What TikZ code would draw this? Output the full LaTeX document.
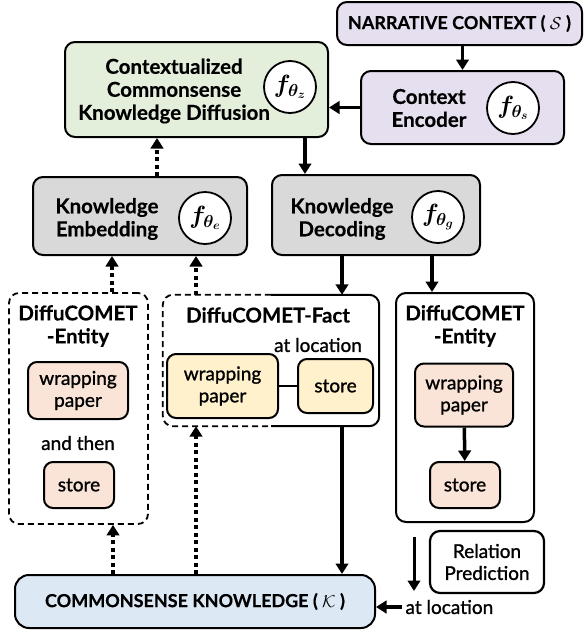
\documentclass[tikz,border=0pt]{standalone}
\usepackage{fontspec}
\setmainfont{Lato}[BoldFeatures={FakeBold=0.4}]
\newfontfamily\medfont{Lato}[FakeBold=1.2]
\usepackage{bm}
\usetikzlibrary{arrows.meta}
\definecolor{ctxpurple}{HTML}{E6DFF0}
\definecolor{diffgreen}{HTML}{E3EFDB}
\definecolor{kgray}{HTML}{D9D9D9}
\definecolor{peach}{HTML}{FAE4D7}
\definecolor{cream}{HTML}{FFF1CC}
\definecolor{kblue}{HTML}{DDE8F5}
\tikzset{%
  >={Triangle[width=12.5pt,length=10.5pt]},
  % Specifications for style of nodes:
  base/.style = {
    rectangle,
    rounded corners=10pt,
    draw=black,
    line width=2pt,
    text centered,
    inner sep=0pt
  },
  context/.style = {base, fill=ctxpurple},
  diffusion/.style = {base, fill=diffgreen},
  module/.style = {base, fill=kgray},
  frame/.style = {base, fill=white},
  dframe/.style = {base, dash pattern=on 6pt off 4pt, line width=1.8pt},
  entity/.style = {base, fill=peach, rounded corners=9pt},
  fact/.style = {base, fill=cream, rounded corners=9pt},
  title/.style = {font=\fontsize{20.5}{23}\selectfont\bfseries, align=center},
  caps/.style = {font=\fontsize{18}{20}\selectfont\bfseries},
  plain/.style = {font=\fontsize{19}{22}\selectfont\medfont, align=center},
  fcirc/.style = {circle, draw=black, line width=1.8pt, fill=white,
    minimum size=52pt, inner sep=0pt, font=\fontsize{25}{25}\selectfont},
  arr/.style = {->, line width=3.5pt},
  darr/.style = {->, line width=4pt, dash pattern=on 4pt off 3.5pt},
}

\begin{document}
\begin{tikzpicture}[x=1pt, y=-1pt]
  \useasboundingbox (0,0) rectangle (584,635);
  % top row
  \node (narr) [context, minimum width=245pt, minimum height=43pt, caps]
    at (459.5,23.5) {NARRATIVE CONTEXT ( $\mathcal{S}$ )};
  \node (enc) [context, minimum width=203pt, minimum height=73pt] at (462.5,107.5) {};
  \node (enc_txt) [title] at (429,108) {Context\\Encoder};
  \node (enc_f) [fcirc] at (513,108) {$\bm{f_{\theta_s}}$};
  \node (ctx) [diffusion, minimum width=263pt, minimum height=95pt] at (196.5,89.5) {};
  \node (ctx_txt) [title] at (174,91)
    {Contextualized\\Commonsense\\Knowledge Diffusion};
  \node (ctx_f) [fcirc] at (290,87) {$\bm{f_{\theta_z}}$};
  % middle row
  \node (ke) [module, minimum width=214pt, minimum height=78pt] at (140,216) {};
  \node (ke_txt) [title] at (107,219) {Knowledge\\Embedding};
  \node (ke_f) [fcirc] at (205,218) {$\bm{f_{\theta_e}}$};
  \node (kd) [module, minimum width=208pt, minimum height=80pt] at (376,215) {};
  \node (kd_txt) [title] at (342,219) {Knowledge\\Decoding};
  \node (kd_f) [fcirc] at (438,217) {$\bm{f_{\theta_g}}$};
  % DiffuCOMET outputs
  \node (lent) [dframe, minimum width=139pt, minimum height=231pt] at (78.5,408.5) {};
  \node (lent_txt) [title] at (78,326) {DiffuCOMET\\-Entity};
  \node (lwrap) [entity, minimum width=100pt, minimum height=57pt, plain]
    at (78,390.5) {wrapping\\paper};
  \node (lthen) [plain] at (78,443) {and then};
  \node (lstore) [entity, minimum width=70pt, minimum height=46pt, plain]
    at (79,485) {store};
  \node (fact) [minimum width=216pt, minimum height=131pt] at (271,360.5) {};
  \draw[line width=1.8pt, dash pattern=on 6pt off 4pt, rounded corners=10pt]
    ([xshift=108pt]fact.north west) -- (fact.north west)
    -- (fact.south west) -- ([xshift=108pt]fact.south west);
  \draw[line width=2pt, rounded corners=10pt] ([xshift=-108pt]fact.north east)
    -- (fact.north east) -- (fact.south east) -- ([xshift=-108pt]fact.south east);
  \node (fact_txt) [title] at (268,315) {DiffuCOMET-Fact};
  \node (fact_rel) [plain] at (318,345) {at location};
  \node (fwrap) [fact, minimum width=111pt, minimum height=64pt, plain]
    at (222.5,386) {wrapping\\paper};
  \node (fstore) [fact, minimum width=75pt, minimum height=54pt, plain]
    at (335.5,386) {store};
  \node (rent) [frame, minimum width=138pt, minimum height=229pt] at (465,407.5) {};
  \node (rent_txt) [title] at (465,326) {DiffuCOMET\\-Entity};
  \node (rwrap) [entity, minimum width=98pt, minimum height=63pt, plain]
    at (464,395) {wrapping\\paper};
  \node (rstore) [entity, minimum width=70pt, minimum height=46pt, plain]
    at (465,485) {store};
  % bottom row
  \node (kb) [base, fill=kblue, minimum width=360pt, minimum height=53pt,
    rounded corners=14pt, caps] at (195,601.5) {COMMONSENSE KNOWLEDGE ( $\mathcal{K}$ )};
  \node (relpred) [frame, minimum width=114pt, minimum height=62pt, plain,
    line width=2.2pt] at (487,562) {Relation\\Prediction};
  \node (loc) [plain, anchor=west] at (402,607) {at location};
  \coordinate (rp_top) at (414,537);
  \coordinate (rp_bot) at (414,591);
  % lines
  \draw[arr] (narr.south -| enc.north) -- (enc.north);
  \draw[arr] (enc.west) -- (enc.west -| ctx.east);
  \draw[arr] ([xshift=108.5pt]ctx.south) -- ([xshift=-71pt]kd.north);
  \draw[darr] ([xshift=17pt]ke.north) -- ([xshift=-39.5pt]ctx.south);
  \draw[darr] ([xshift=33.5pt]lent.north) -- ([xshift=-28pt]ke.south);
  \draw[darr] ([xshift=-75pt]fact.north) -- ([xshift=56pt]ke.south);
  \draw[arr] ([xshift=-34pt]kd.south) -- ([xshift=71pt]fact.north);
  \draw[arr] ([xshift=56pt]kd.south) -- ([xshift=-33pt]rent.north);
  \draw[arr] ([xshift=71pt]fact.south) -- ([xshift=147pt]kb.north);
  \draw[darr] ([xshift=-82pt]kb.north) -- ([xshift=34.5pt]lent.south);
  \draw[darr] ([xshift=1pt]kb.north) -- ([xshift=-75pt]fact.south);
  \draw[line width=2pt] (fwrap) -- (fstore);
  \draw[arr] (rwrap) -- (rstore);
  \draw[arr, line width=3pt] (rp_top) -- (rp_bot);
  \draw[arr] (loc.west) -- (loc.west -| kb.east);
\end{tikzpicture}
\end{document}
